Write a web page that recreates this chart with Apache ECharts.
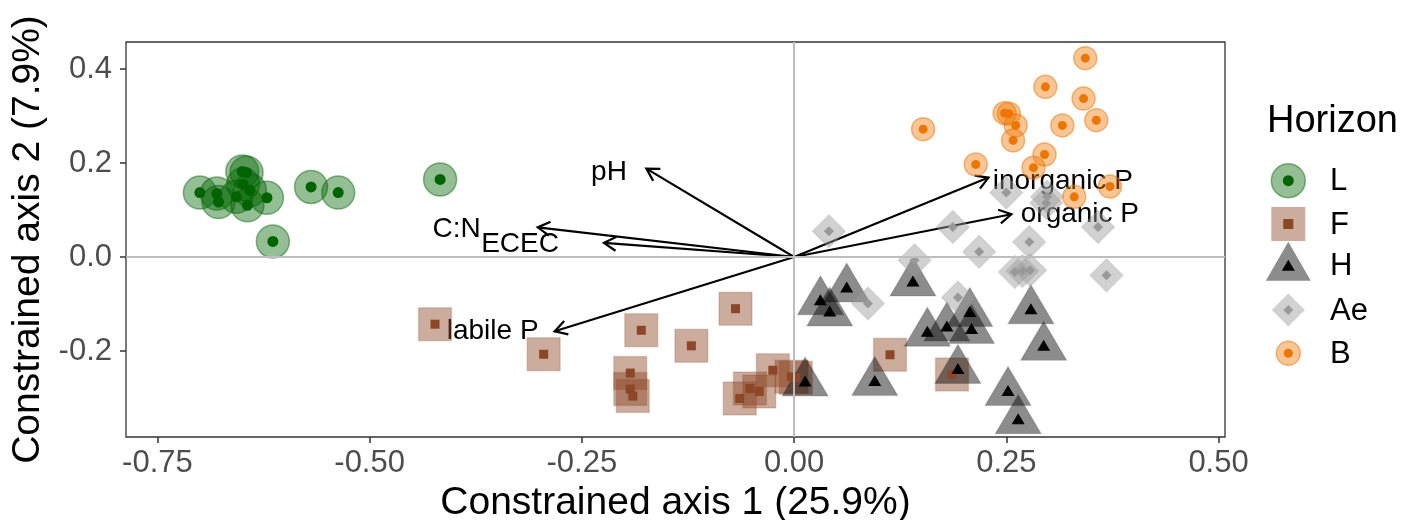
<!DOCTYPE html>
<html>
<head>
<meta charset="utf-8">
<script src="https://cdn.jsdelivr.net/npm/echarts@6/dist/echarts.min.js"></script>
<style>html,body{margin:0;padding:0;background:#fff}#c{width:1406px;height:520px}</style>
</head>
<body>
<div id="c"></div>
<script>
// ---- data ----
const horizons = ['L', 'F', 'H', 'Ae', 'B'];
const pointsL = [[-0.700,0.137],[-0.680,0.135],[-0.678,0.117],[-0.657,0.128],[-0.650,0.182],[-0.645,0.180],[-0.641,0.142],[-0.649,0.155],[-0.644,0.110],[-0.621,0.126],[-0.569,0.149],[-0.537,0.137],[-0.614,0.033],[-0.417,0.165]];
const pointsF = [[-0.423,-0.143],[-0.295,-0.207],[-0.180,-0.156],[-0.121,-0.189],[-0.069,-0.110],[-0.193,-0.247],[-0.193,-0.281],[-0.190,-0.296],[-0.025,-0.241],[-0.052,-0.280],[-0.041,-0.286],[-0.064,-0.301],[0.002,-0.257],[-0.003,-0.255],[0.113,-0.208],[0.186,-0.250]];
const pointsH = [[0.031,-0.091],[0.042,-0.115],[0.062,-0.064],[0.140,-0.051],[0.157,-0.158],[0.180,-0.147],[0.207,-0.116],[0.209,-0.152],[0.279,-0.110],[0.294,-0.188],[0.095,-0.263],[0.193,-0.237],[0.013,-0.264],[0.252,-0.284],[0.264,-0.344]];
const pointsAe = [[0.041,0.055],[0.187,0.064],[0.218,0.011],[0.142,-0.007],[0.087,-0.099],[0.193,-0.086],[0.277,0.032],[0.260,-0.032],[0.269,-0.030],[0.278,-0.028],[0.368,-0.039],[0.358,0.064],[0.250,0.137],[0.298,0.128],[0.297,0.115]];
const pointsB = [[0.343,0.423],[0.296,0.362],[0.341,0.337],[0.356,0.291],[0.316,0.280],[0.248,0.306],[0.253,0.305],[0.261,0.280],[0.258,0.248],[0.152,0.272],[0.214,0.197],[0.295,0.218],[0.282,0.190],[0.372,0.150],[0.330,0.128]];
// arrows: tips and label anchors
const arrowNames = ['pH', 'C:N', 'ECEC', 'labile P', 'inorganic P', 'organic P'];
const arrowTips = [[-0.174,0.188],[-0.302,0.063],[-0.224,0.030],[-0.282,-0.158],[0.229,0.169],[0.256,0.091]];
const arrowLabels = [[-0.197,0.181],[-0.369,0.059],[-0.277,0.027],[-0.301,-0.159],[0.234,0.161],[0.267,0.091]];
const xTicks = [-0.75, -0.5, -0.25, 0, 0.25, 0.5];
const yTicks = [-0.2, 0, 0.2, 0.4];
const xTitle = 'Constrained axis 1 (25.9%)';
const yTitle = 'Constrained axis 2 (7.9%)';
const legendTitle = 'Horizon';

// ---- styles ----
const FONT = '"Liberation Sans", Arial, Helvetica, sans-serif';
const styles = {
  L:  {outer:{symbol:'circle', size:33, fill:'rgba(0,100,0,0.42)', border:'rgba(0,100,0,0.45)', off:[0,0]}, inner:{symbol:'circle', size:11, fill:'#006400', off:[0,0]}},
  F:  {outer:{symbol:'rect', size:33, fill:'rgba(139,71,38,0.45)', border:'rgba(139,71,38,0.2)', off:[0,0]}, inner:{symbol:'rect', size:9, fill:'#8B4726', off:[0,0]}},
  H:  {outer:{symbol:'triangle', size:[46,39], fill:'rgba(0,0,0,0.45)', border:'rgba(0,0,0,0.1)', off:[0,-4.5]}, inner:{symbol:'triangle', size:[13,11], fill:'#000', off:[0,0]}},
  Ae: {outer:{symbol:'diamond', size:[33,33], fill:'rgba(153,153,153,0.45)', border:'rgba(153,153,153,0.2)', off:[0,0]}, inner:{symbol:'diamond', size:[10,10], fill:'#999999', off:[0,0]}},
  B:  {outer:{symbol:'circle', size:23, fill:'rgba(238,118,0,0.42)', border:'rgba(238,118,0,0.5)', off:[0,0]}, inner:{symbol:'circle', size:9, fill:'#EE7600', off:[0,0]}}
};
const pointSets = {L: pointsL, F: pointsF, H: pointsH, Ae: pointsAe, B: pointsB};

const chart = echarts.init(document.getElementById('c'), null, {renderer: 'canvas'});

const series = [];
// zero lines
series.push({
  type: 'scatter', name: 'zero', data: [], silent: true, z: 1,
  markLine: {
    silent: true, symbol: ['none', 'none'], animation: false,
    label: {show: false},
    lineStyle: {color: '#bdbdbd', width: 2, type: 'solid'},
    emphasis: {disabled: true},
    data: [{xAxis: 0}, {yAxis: 0}]
  }
});
// arrows + labels
series.push({
  type: 'custom', name: 'arrows', z: 2, silent: true,
  data: arrowNames.map((n, i) => ({name: n, value: [arrowTips[i][0], arrowTips[i][1], arrowLabels[i][0], arrowLabels[i][1]]})),
  encode: {x: 0, y: 1},
  renderItem: function (params, api) {
    const o = api.coord([0, 0]);
    const t = api.coord([api.value(0), api.value(1)]);
    const lp = api.coord([api.value(2), api.value(3)]);
    const ang = Math.atan2(t[1] - o[1], t[0] - o[0]);
    const L = 14, a = Math.PI / 6;
    const p1 = [t[0] - L * Math.cos(ang - a), t[1] - L * Math.sin(ang - a)];
    const p2 = [t[0] - L * Math.cos(ang + a), t[1] - L * Math.sin(ang + a)];
    const name = arrowNames[params.dataIndex];
    return {
      type: 'group',
      children: [
        {type: 'line', shape: {x1: o[0], y1: o[1], x2: t[0], y2: t[1]}, style: {stroke: '#000', lineWidth: 2.2}},
        {type: 'polyline', shape: {points: [p1, t, p2]}, style: {stroke: '#000', lineWidth: 2.2, fill: null}},
        {type: 'text', x: lp[0], y: lp[1], style: {text: name, align: api.value(2) < 0 ? 'right' : 'left', verticalAlign: 'middle', fontSize: 28, fontFamily: FONT, fill: '#000'}}
      ]
    };
  }
});
// outer markers
horizons.forEach(h => {
  const s = styles[h].outer;
  series.push({
    type: 'scatter', name: h, z: 3, data: pointSets[h],
    symbol: s.symbol, symbolSize: s.size, symbolOffset: s.off,
    itemStyle: {color: s.fill, borderColor: s.border, borderWidth: 1.5, opacity: 1},
    emphasis: {disabled: true}
  });
});
// inner markers
horizons.forEach(h => {
  const s = styles[h].inner;
  series.push({
    type: 'scatter', name: h + ' centre', z: 4, data: pointSets[h],
    symbol: s.symbol, symbolSize: s.size, symbolOffset: s.off,
    itemStyle: {color: s.fill, opacity: 1},
    emphasis: {disabled: true}
  });
});

// legend drawn as graphics
const legX = 1288.3, legTextX = 1330;
const legY = [180.7, 224, 265.7, 310, 353.3];
const graphics = [{type: 'text', x: 1267, y: 122, style: {text: legendTitle, fontSize: 38, fontFamily: FONT, fill: '#000', verticalAlign: 'middle', align: 'left'}}];
horizons.forEach((h, i) => {
  const y = legY[i];
  const so = styles[h].outer, si = styles[h].inner;
  if (h === 'L' || h === 'B') {
    const r = h === 'L' ? 17 : 12, ri = h === 'L' ? 5.5 : 4.5;
    graphics.push({type: 'circle', shape: {cx: legX, cy: y, r: r}, style: {fill: so.fill, stroke: so.border, lineWidth: 1.5}});
    graphics.push({type: 'circle', shape: {cx: legX, cy: y, r: ri}, style: {fill: si.fill}});
  } else if (h === 'F') {
    graphics.push({type: 'rect', shape: {x: legX - 17, y: y - 17, width: 34, height: 34}, style: {fill: so.fill}});
    graphics.push({type: 'rect', shape: {x: legX - 5, y: y - 5, width: 10, height: 10}, style: {fill: si.fill}});
  } else if (h === 'H') {
    graphics.push({type: 'polygon', shape: {points: [[legX, y - 24], [legX - 22.5, y + 15], [legX + 22.5, y + 15]]}, style: {fill: so.fill}});
    graphics.push({type: 'polygon', shape: {points: [[legX, y - 6], [legX - 6.5, y + 5], [legX + 6.5, y + 5]]}, style: {fill: si.fill}});
  } else {
    graphics.push({type: 'polygon', shape: {points: [[legX, y - 16.5], [legX + 16.5, y], [legX, y + 16.5], [legX - 16.5, y]]}, style: {fill: so.fill}});
    graphics.push({type: 'polygon', shape: {points: [[legX, y - 5], [legX + 5, y], [legX, y + 5], [legX - 5, y]]}, style: {fill: si.fill}});
  }
  graphics.push({type: 'text', x: legTextX, y: y + 1, style: {text: h, fontSize: 31, fontFamily: FONT, fill: '#000', verticalAlign: 'middle', align: 'left'}});
});

chart.setOption({
  animation: false,
  backgroundColor: '#fff',
  grid: {left: 126, top: 42, width: 1099, height: 395, show: true, borderColor: '#333', borderWidth: 1.3, backgroundColor: 'transparent', containLabel: false, outerBoundsMode: 'none'},
  xAxis: {
    type: 'value', min: -0.787, max: 0.5076,
    name: xTitle, nameLocation: 'middle', nameGap: 39,
    nameTextStyle: {fontSize: 39, fontFamily: FONT, color: '#000'},
    axisLine: {show: false, onZero: false},
    axisTick: {show: true, length: 6, lineStyle: {color: '#333', width: 1.5}, customValues: xTicks},
    axisLabel: {fontSize: 31, fontFamily: FONT, color: '#4d4d4d', margin: 11, customValues: xTicks, formatter: v => v.toFixed(2)},
    splitLine: {show: false}
  },
  yAxis: {
    type: 'value', min: -0.383, max: 0.4574,
    name: yTitle, nameLocation: 'middle', nameGap: 68, nameRotate: 90,
    nameTextStyle: {fontSize: 39, fontFamily: FONT, color: '#000'},
    axisLine: {show: false, onZero: false},
    axisTick: {show: true, length: 6, lineStyle: {color: '#333', width: 1.5}, customValues: yTicks},
    axisLabel: {fontSize: 31, fontFamily: FONT, color: '#4d4d4d', margin: 14, customValues: yTicks, formatter: v => v.toFixed(1)},
    splitLine: {show: false}
  },
  graphic: graphics,
  series: series
});
</script>
</body>
</html>
